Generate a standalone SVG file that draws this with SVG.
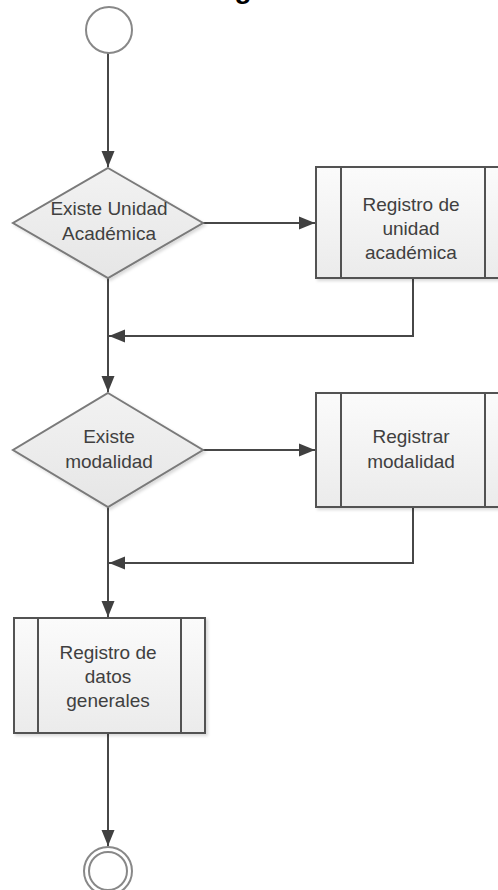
<svg xmlns="http://www.w3.org/2000/svg" width="498" height="890" viewBox="0 0 498 890">
  <style>
    .lbl { font-family: "Liberation Sans", Arial, sans-serif; font-size: 19px; fill: #404040; text-anchor: middle; }
    .title { font-family: "Liberation Sans", Arial, sans-serif; font-size: 28px; font-weight: bold; fill: #000; text-anchor: middle; }
    .conn { fill: none; stroke: #474747; stroke-width: 2; }
    .box { fill: url(#boxfill); stroke: #525252; stroke-width: 2; }
    .bar { stroke: #525252; stroke-width: 2; }
    .dec { fill: url(#decfill); stroke: #7a7a7a; stroke-width: 2; }
    .term { fill: #ffffff; stroke: #888888; stroke-width: 2; }
  </style>
  <defs>
    <linearGradient id="boxfill" x1="0" y1="0" x2="0" y2="1">
      <stop offset="0" stop-color="#fbfbfb"/>
      <stop offset="1" stop-color="#ebebeb"/>
    </linearGradient>
    <linearGradient id="decfill" x1="0" y1="0" x2="0" y2="1">
      <stop offset="0" stop-color="#f2f2f2"/>
      <stop offset="1" stop-color="#e6e6e6"/>
    </linearGradient>
    <filter id="shadow" x="-10%" y="-10%" width="130%" height="130%">
      <feDropShadow dx="2" dy="2" stdDeviation="1.5" flood-color="#000" flood-opacity="0.15"/>
    </filter>
    <marker id="arrow" markerUnits="userSpaceOnUse" markerWidth="17" markerHeight="14" refX="16" refY="7" orient="auto">
      <path d="M0,0.5 L16,7 L0,13.5 z" fill="#404040"/>
    </marker>
  </defs>

  <text class="title" x="243" y="-2">g</text>

  <g id="connectors">
    <path class="conn" d="M108,53 V167" marker-end="url(#arrow)"/>
    <path class="conn" d="M203,223 H315" marker-end="url(#arrow)"/>
    <path class="conn" d="M413,278 V336 H109" marker-end="url(#arrow)"/>
    <path class="conn" d="M108,278 V392" marker-end="url(#arrow)"/>
    <path class="conn" d="M203,450 H315" marker-end="url(#arrow)"/>
    <path class="conn" d="M413,507 V563 H109" marker-end="url(#arrow)"/>
    <path class="conn" d="M108,507 V617" marker-end="url(#arrow)"/>
    <path class="conn" d="M108,733 V846" marker-end="url(#arrow)"/>
  </g>

  <g id="start">
    <circle class="term" cx="109" cy="30" r="23"/>
  </g>

  <g id="decision1">
    <polygon class="dec" filter="url(#shadow)" points="108,168 203,223 108,278 13,223"/>
    <text class="lbl" x="109" y="215">Existe Unidad</text>
    <text class="lbl" x="109" y="240">Académica</text>
  </g>

  <g id="process1">
    <rect class="box" filter="url(#shadow)" x="316" y="167" width="194" height="111"/>
    <line class="bar" x1="341" y1="167" x2="341" y2="278"/>
    <line class="bar" x1="485" y1="167" x2="485" y2="278"/>
    <text class="lbl" x="411" y="211">Registro de</text>
    <text class="lbl" x="411" y="235">unidad</text>
    <text class="lbl" x="411" y="259">académica</text>
  </g>

  <g id="decision2">
    <polygon class="dec" filter="url(#shadow)" points="108,393 203,450 108,507 13,450"/>
    <text class="lbl" x="109" y="443">Existe</text>
    <text class="lbl" x="109" y="468">modalidad</text>
  </g>

  <g id="process2">
    <rect class="box" filter="url(#shadow)" x="316" y="393" width="194" height="114"/>
    <line class="bar" x1="341" y1="393" x2="341" y2="507"/>
    <line class="bar" x1="485" y1="393" x2="485" y2="507"/>
    <text class="lbl" x="411" y="443">Registrar</text>
    <text class="lbl" x="411" y="468">modalidad</text>
  </g>

  <g id="process3">
    <rect class="box" filter="url(#shadow)" x="14" y="618" width="191" height="115"/>
    <line class="bar" x1="38" y1="618" x2="38" y2="733"/>
    <line class="bar" x1="181" y1="618" x2="181" y2="733"/>
    <text class="lbl" x="108" y="659">Registro de</text>
    <text class="lbl" x="108" y="683">datos</text>
    <text class="lbl" x="108" y="707">generales</text>
  </g>

  <g id="end">
    <circle class="term" cx="108" cy="871" r="24"/>
    <circle class="term" cx="108" cy="871" r="19"/>
  </g>
</svg>
